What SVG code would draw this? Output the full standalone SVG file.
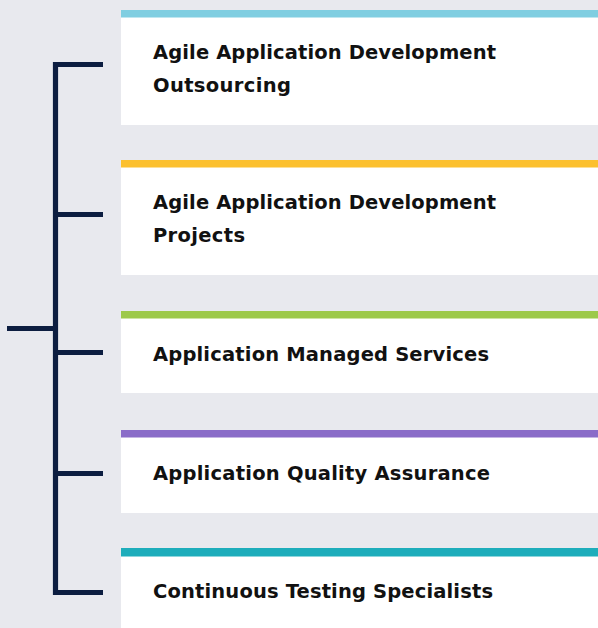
<svg xmlns="http://www.w3.org/2000/svg" width="598" height="628" viewBox="0 0 598 628">
<style>
.box{fill:#ffffff}
.lbl{font-family:"DejaVu Sans","Open Sans","Liberation Sans",sans-serif;font-weight:bold;font-size:19.5px;fill:#111111}
.ln{stroke:#0c1d40;stroke-width:5.2;fill:none}
</style>
<rect width="598" height="628" fill="#e8e9ee"/>
<g id="node1">
<rect class="box" x="121" y="10" width="477" height="115"/>
<rect x="121" y="10" width="477" height="7.5" fill="#80cee1"/>
<text class="lbl" x="153" y="59" textLength="343">Agile Application Development</text>
<text class="lbl" x="153" y="91.5" textLength="138">Outsourcing</text>
</g>
<g id="node2">
<rect class="box" x="121" y="160" width="477" height="115"/>
<rect x="121" y="160" width="477" height="7.5" fill="#fcc02e"/>
<text class="lbl" x="153" y="209" textLength="343">Agile Application Development</text>
<text class="lbl" x="153" y="241.5" textLength="92">Projects</text>
</g>
<g id="node3">
<rect class="box" x="121" y="311" width="477" height="82"/>
<rect x="121" y="311" width="477" height="7.5" fill="#9dc94a"/>
<text class="lbl" x="153" y="361" textLength="336">Application Managed Services</text>
</g>
<g id="node4">
<rect class="box" x="121" y="430" width="477" height="83"/>
<rect x="121" y="430" width="477" height="7.5" fill="#8a6cc8"/>
<text class="lbl" x="153" y="480" textLength="337">Application Quality Assurance</text>
</g>
<g id="node5">
<rect class="box" x="121" y="548" width="477" height="80"/>
<rect x="121" y="548" width="477" height="8.5" fill="#1eadbb"/>
<text class="lbl" x="153" y="598" textLength="340">Continuous Testing Specialists</text>
</g>
<g id="connectors">
<path class="ln" d="M103 64.5H55.5V592.5H103"/>
<path class="ln" d="M7 328.5H55.5"/>
<path class="ln" d="M55.5 214.5H103M55.5 352.5H103M55.5 473.5H103"/>
</g>
</svg>
